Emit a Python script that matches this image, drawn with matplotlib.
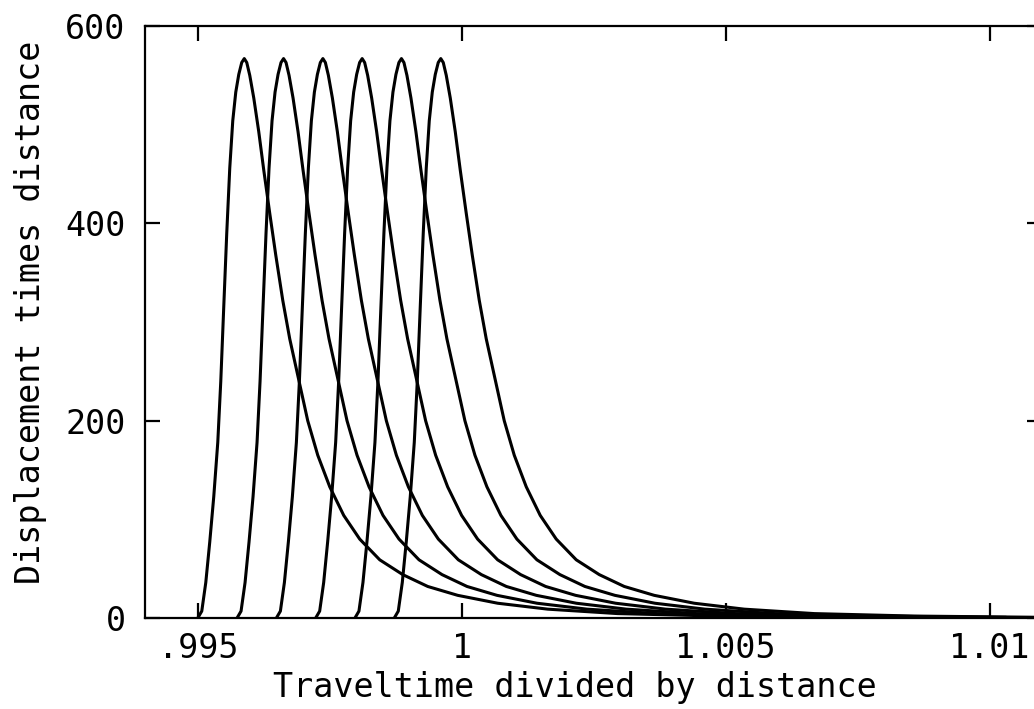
import matplotlib
matplotlib.use('Agg')
import matplotlib.pyplot as plt

# amplitude levels read along each pulse (same peak height for every trace)
amplitude = [0, 7, 36, 77, 123, 178, 240, 315, 390, 456, 504, 533, 551, 563, 567,
             563, 550, 527, 493, 454, 410, 368, 322, 283, 246, 200, 165, 133, 104,
             80, 59, 44, 32, 23, 15, 9, 4.5, 2, 0.7]

# x positions (traveltime / distance) where each trace passes those levels
trace_1 = [0.995000, 0.995076, 0.995152, 0.995227, 0.995303, 0.995379, 0.995436, 0.995492,
           0.995549, 0.995606, 0.995663, 0.995720, 0.995777, 0.995833, 0.995881, 0.995928,
           0.995985, 0.996061, 0.996155, 0.996250, 0.996364, 0.996477, 0.996610, 0.996742,
           0.996894, 0.997083, 0.997273, 0.997500, 0.997765, 0.998068, 0.998447, 0.998883,
           0.999356, 0.999924, 1.000682, 1.001629, 1.002955, 1.004848, 1.007311]
trace_2 = [0.995744, 0.995820, 0.995896, 0.995971, 0.996047, 0.996123, 0.996180, 0.996236,
           0.996293, 0.996350, 0.996407, 0.996464, 0.996521, 0.996577, 0.996625, 0.996672,
           0.996729, 0.996805, 0.996899, 0.996994, 0.997108, 0.997221, 0.997354, 0.997486,
           0.997638, 0.997827, 0.998017, 0.998244, 0.998509, 0.998812, 0.999191, 0.999627,
           1.000100, 1.000668, 1.001426, 1.002373, 1.003699, 1.005592, 1.008055]
trace_3 = [0.996489, 0.996565, 0.996641, 0.996716, 0.996792, 0.996868, 0.996925, 0.996981,
           0.997038, 0.997095, 0.997152, 0.997209, 0.997266, 0.997322, 0.997370, 0.997417,
           0.997474, 0.997550, 0.997644, 0.997739, 0.997853, 0.997966, 0.998099, 0.998231,
           0.998383, 0.998572, 0.998762, 0.998989, 0.999254, 0.999557, 0.999936, 1.000372,
           1.000845, 1.001413, 1.002171, 1.003118, 1.004444, 1.006337, 1.008800]
trace_4 = [0.997233, 0.997309, 0.997385, 0.997460, 0.997536, 0.997612, 0.997669, 0.997725,
           0.997782, 0.997839, 0.997896, 0.997953, 0.998010, 0.998066, 0.998114, 0.998161,
           0.998218, 0.998294, 0.998388, 0.998483, 0.998597, 0.998710, 0.998843, 0.998975,
           0.999127, 0.999316, 0.999506, 0.999733, 0.999998, 1.000301, 1.000680, 1.001116,
           1.001589, 1.002157, 1.002915, 1.003862, 1.005188, 1.007081, 1.009544]
trace_5 = [0.997977, 0.998053, 0.998129, 0.998204, 0.998280, 0.998356, 0.998413, 0.998469,
           0.998526, 0.998583, 0.998640, 0.998697, 0.998754, 0.998810, 0.998858, 0.998905,
           0.998962, 0.999038, 0.999132, 0.999227, 0.999341, 0.999454, 0.999587, 0.999719,
           0.999871, 1.000060, 1.000250, 1.000477, 1.000742, 1.001045, 1.001424, 1.001860,
           1.002333, 1.002901, 1.003659, 1.004606, 1.005932, 1.007825, 1.010288]
trace_6 = [0.998722, 0.998798, 0.998874, 0.998949, 0.999025, 0.999101, 0.999158, 0.999214,
           0.999271, 0.999328, 0.999385, 0.999442, 0.999499, 0.999555, 0.999603, 0.999650,
           0.999707, 0.999783, 0.999877, 0.999972, 1.000086, 1.000199, 1.000332, 1.000464,
           1.000616, 1.000805, 1.000995, 1.001222, 1.001487, 1.001790, 1.002169, 1.002605,
           1.003078, 1.003646, 1.004404, 1.005351, 1.006677, 1.008570, 1.011033]

x_ticks = [0.995, 1.0, 1.005, 1.01]
x_tick_labels = ['.995', '1', '1.005', '1.01']
y_ticks = [0, 200, 400, 600]
y_tick_labels = ['0', '200', '400', '600']

plt.rcParams['font.family'] = ['DejaVu Sans Mono']
plt.rcParams['font.size'] = 24

fig = plt.figure(figsize=(10.34, 7.09), dpi=100)
ax = fig.add_axes([0.1402, 0.1283, 0.868, 0.835])

for tr in [trace_1, trace_2, trace_3, trace_4, trace_5, trace_6]:
    ax.plot(tr, amplitude, color='black', linewidth=2.2, solid_joinstyle='round')

ax.set_xlim(0.994, 1.011)
ax.set_ylim(0, 600)
ax.set_xticks(x_ticks)
ax.set_xticklabels(x_tick_labels)
ax.set_yticks(y_ticks)
ax.set_yticklabels(y_tick_labels)
ax.minorticks_off()
ax.tick_params(direction='in', length=11, width=1.6, top=True, right=True,
               labelsize=24, colors='black')
ax.tick_params(axis='y', pad=14)
ax.tick_params(axis='x', pad=10)
for sp in ax.spines.values():
    sp.set_linewidth(1.6)

ax.set_xlabel('Traveltime divided by distance', fontsize=24)
ax.xaxis.label.set_va('center')
ax.xaxis.set_label_coords(0.479, -0.118)
ax.set_ylabel('Displacement times distance', fontsize=24)
ax.yaxis.label.set_va('center')
ax.yaxis.set_label_coords(-0.128, 0.517)

fig.savefig('out.png', dpi=100)
